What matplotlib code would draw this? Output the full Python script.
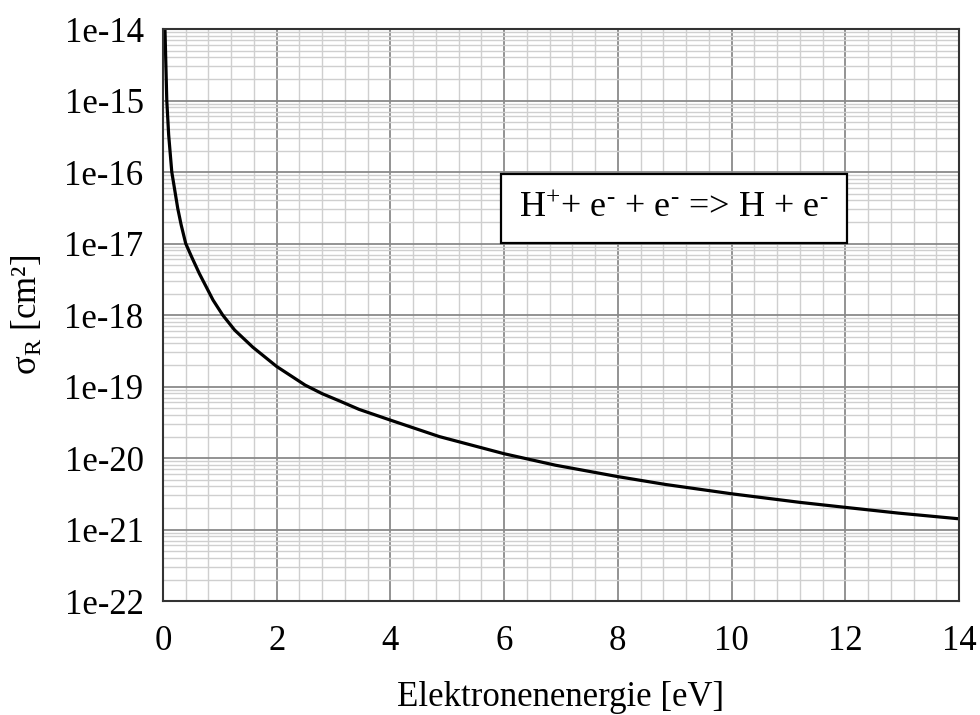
import numpy as np
import matplotlib
matplotlib.use("Agg")
import matplotlib.pyplot as plt
from matplotlib.ticker import MultipleLocator, LogLocator, FixedLocator, NullFormatter

plt.rcParams['font.family'] = ['Liberation Serif', 'DejaVu Serif']
plt.rcParams['mathtext.fontset'] = 'custom'
plt.rcParams['mathtext.rm'] = 'Liberation Serif'
plt.rcParams['mathtext.it'] = 'Liberation Serif:italic'

# electron energy (eV) and log10 of the recombination cross section (cm^2)
energy = [0.035, 0.067, 0.10, 0.155, 0.26, 0.32, 0.40, 0.50, 0.64, 0.88, 1.05, 1.26, 1.58,
          2.0, 2.5, 2.8, 3.1, 3.45, 4.0, 4.86, 6.0, 6.9, 8.0, 8.84, 10.0, 11.2, 12.0,
          12.93, 14.0]
log_sigma = [-14.0, -15.0, -15.48, -16.0, -16.51, -16.74, -17.0, -17.18, -17.42, -17.79,
             -18.0, -18.21, -18.45, -18.72, -18.98, -19.10, -19.20, -19.32, -19.47, -19.70,
             -19.94, -20.10, -20.26, -20.37, -20.50, -20.62, -20.69, -20.77, -20.85]

decades = [-22, -21, -20, -19, -18, -17, -16, -15, -14]
ytick_labels = ['1e%d' % d for d in decades]

sigma = 10.0 ** np.array(log_sigma)

fig = plt.figure(figsize=(9.8, 7.15), dpi=100)
ax = fig.add_axes([0.1663, 0.1594, 0.8123, 0.8000])

ax.set_yscale('log')
ax.set_xlim(0, 14)
ax.set_ylim(1e-22, 1e-14)

ax.xaxis.set_major_locator(MultipleLocator(2))
ax.xaxis.set_minor_locator(MultipleLocator(0.4))
ax.yaxis.set_major_locator(FixedLocator([10.0 ** d for d in decades]))
ax.yaxis.set_minor_locator(LogLocator(base=10, subs=np.arange(2, 10), numticks=20))
ax.yaxis.set_minor_formatter(NullFormatter())
ax.set_yticklabels(ytick_labels)

ax.grid(True, which='major', color='#8a8a8a', linewidth=1.3)
ax.grid(True, which='minor', color='#cfcfcf', linewidth=1.0)
ax.set_axisbelow(True)

ax.tick_params(which='both', length=0)
ax.tick_params(axis='x', labelsize=25, pad=17)
ax.tick_params(axis='y', labelsize=25, pad=14)

for s in ax.spines.values():
    s.set_color('#333333')
    s.set_linewidth(1.5)

ax.plot(energy, sigma, color='black', linewidth=2.3)

ax.set_xlabel('Elektronenenergie [eV]', fontsize=25, labelpad=17)
ax.set_ylabel(r'σ$_\mathrm{R}$ [cm²]', fontsize=25, labelpad=14)

ax.text(0.642, 0.687, r'H$^{+}$+ e$^{\text{-}}$ + e$^{\text{-}}$ => H + e$^{\text{-}}$',
        transform=ax.transAxes, ha='center', va='center', fontsize=26,
        bbox=dict(boxstyle='square,pad=0.5', facecolor='white', edgecolor='black', linewidth=1.6))

fig.savefig('out.png', dpi=100)
